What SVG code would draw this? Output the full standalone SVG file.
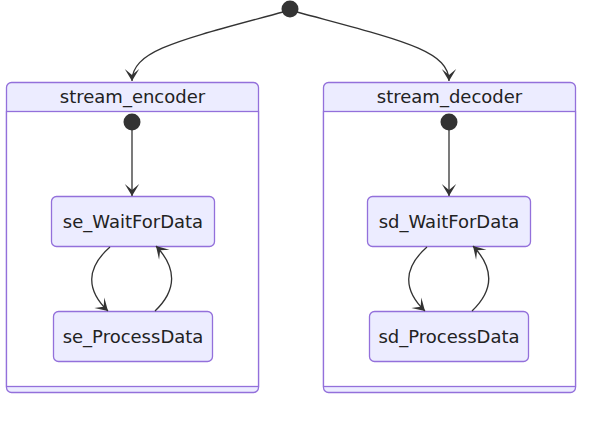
<svg xmlns="http://www.w3.org/2000/svg" width="589" height="425" viewBox="0 0 589 425">
<style>
.comp{fill:#ECECFF;stroke:#9370DB;stroke-width:1.3}
.inner{fill:#ffffff;stroke:#9370DB;stroke-width:1.3}
.node{fill:#ECECFF;stroke:#9370DB;stroke-width:1.3}
.lbl{font-family:"DejaVu Sans",Verdana,sans-serif;font-size:18px;fill:#222;text-anchor:middle}
.start{fill:#333}
.edge{fill:none;stroke:#333;stroke-width:1.3}
</style>
<defs>
<marker id="barb" viewBox="0 0 20 14" refX="19" refY="7" markerWidth="24" markerHeight="16.8" markerUnits="userSpaceOnUse" orient="auto">
<path d="M19,7 L9,13 L14,7 L9,1 Z" fill="#333"/>
</marker>
</defs>
<rect width="589" height="425" fill="#ffffff"/>
<g id="stream_encoder">
<rect class="comp" x="6.5" y="82.5" width="252" height="310" rx="5"/>
<rect class="inner" x="6.5" y="111.5" width="252" height="275"/>
<text class="lbl" x="132.5" y="103">stream_encoder</text>
</g>
<g id="stream_decoder">
<rect class="comp" x="323.5" y="82.5" width="252" height="310" rx="5"/>
<rect class="inner" x="323.5" y="111.5" width="252" height="275"/>
<text class="lbl" x="449.5" y="103">stream_decoder</text>
</g>
<g id="root_start"><circle class="start" cx="290" cy="9" r="8.5"/></g>
<g id="se_start"><circle class="start" cx="132" cy="122" r="8.5"/></g>
<g id="sd_start"><circle class="start" cx="449" cy="122" r="8.5"/></g>
<g id="se_WaitForData">
<rect class="node" x="51.5" y="196.5" width="163" height="50" rx="5"/>
<text class="lbl" x="133" y="228">se_WaitForData</text>
</g>
<g id="se_ProcessData">
<rect class="node" x="53.5" y="311.5" width="159" height="50" rx="5"/>
<text class="lbl" x="133" y="343">se_ProcessData</text>
</g>
<g id="sd_WaitForData">
<rect class="node" x="367.5" y="196.5" width="163" height="50" rx="5"/>
<text class="lbl" x="449" y="228">sd_WaitForData</text>
</g>
<g id="sd_ProcessData">
<rect class="node" x="369.5" y="311.5" width="159" height="50" rx="5"/>
<text class="lbl" x="449" y="343">sd_ProcessData</text>
</g>
<g id="connectors">
<path class="edge" d="M283,12 C180,40 132,50 132,81" marker-end="url(#barb)"/>
<path class="edge" d="M297,12 C400,40 449,50 449,81" marker-end="url(#barb)"/>
<path class="edge" d="M132,130 L132,196" marker-end="url(#barb)"/>
<path class="edge" d="M449,130 L449,196" marker-end="url(#barb)"/>
<path class="edge" d="M110,247 C86,268 86,290 108,311" marker-end="url(#barb)"/>
<path class="edge" d="M155,311 C177,290 177,268 156,246" marker-end="url(#barb)"/>
<path class="edge" d="M427,247 C403,268 403,290 425,311" marker-end="url(#barb)"/>
<path class="edge" d="M472,311 C494,290 494,268 473,246" marker-end="url(#barb)"/>
</g>
</svg>
